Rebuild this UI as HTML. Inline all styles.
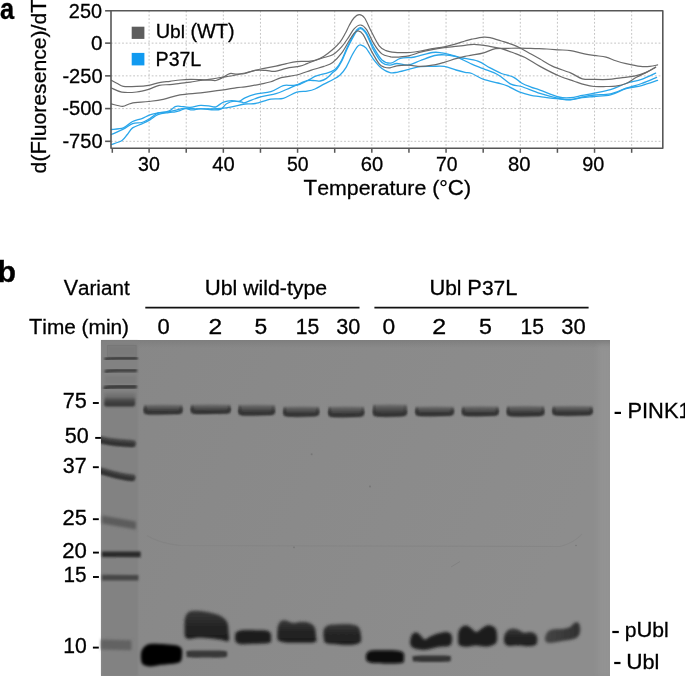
<!DOCTYPE html>
<html><head><meta charset="utf-8"><style>
html,body{margin:0;padding:0;background:#fff;width:685px;height:676px;overflow:hidden}
svg{display:block;will-change:transform}
text{font-family:"Liberation Sans",sans-serif;fill:#000;stroke:#000;stroke-width:0.3px}
</style></head><body>
<svg width="685" height="676" viewBox="0 0 685 676">
<defs>
<filter id="b05" x="-20%" y="-100%" width="140%" height="300%"><feGaussianBlur stdDeviation="0.5"/></filter>
<filter id="b08" x="-20%" y="-100%" width="140%" height="300%"><feGaussianBlur stdDeviation="0.8"/></filter>
<filter id="b10" x="-20%" y="-100%" width="140%" height="300%"><feGaussianBlur stdDeviation="1.0"/></filter>
<filter id="b12" x="-20%" y="-100%" width="140%" height="300%"><feGaussianBlur stdDeviation="1.2"/></filter>
<filter id="b15" x="-20%" y="-100%" width="140%" height="300%"><feGaussianBlur stdDeviation="1.5"/></filter>
<filter id="b18" x="-20%" y="-100%" width="140%" height="300%"><feGaussianBlur stdDeviation="1.8"/></filter>
<filter id="b25" x="-30%" y="-100%" width="160%" height="300%"><feGaussianBlur stdDeviation="2.5"/></filter>
<filter id="b35" x="-30%" y="-100%" width="160%" height="300%"><feGaussianBlur stdDeviation="3.5"/></filter>
<clipPath id="gelclip"><rect x="101" y="340" width="509" height="336"/></clipPath>
<linearGradient id="gelbg" x1="0" y1="0" x2="1" y2="0.3">
  <stop offset="0" stop-color="#878787"/>
  <stop offset="1" stop-color="#8d8d8d"/>
</linearGradient>
<linearGradient id="gtop" x1="0" y1="0" x2="0" y2="1">
  <stop offset="0" stop-color="#7e7e7e" stop-opacity="1"/>
  <stop offset="1" stop-color="#7e7e7e" stop-opacity="0"/>
</linearGradient>
<linearGradient id="lad75" x1="0" y1="0" x2="0" y2="1">
  <stop offset="0" stop-color="#5e5e5e"/>
  <stop offset="0.45" stop-color="#444444"/>
  <stop offset="1" stop-color="#323232"/>
</linearGradient>
<linearGradient id="pu" x1="0" y1="0" x2="0" y2="1">
  <stop offset="0" stop-color="#383838"/>
  <stop offset="0.5" stop-color="#242424"/>
  <stop offset="1" stop-color="#1c1c1c"/>
</linearGradient>
<linearGradient id="pu10" x1="0" y1="0" x2="1" y2="0">
  <stop offset="0" stop-color="#454545"/>
  <stop offset="1" stop-color="#303030"/>
</linearGradient>
<linearGradient id="pink" x1="0" y1="0" x2="0" y2="1">
  <stop offset="0" stop-color="#747474"/>
  <stop offset="0.3" stop-color="#585858"/>
  <stop offset="0.65" stop-color="#404040"/>
  <stop offset="1" stop-color="#333333"/>
</linearGradient>
</defs>
<rect x="101" y="340" width="509" height="336" fill="url(#gelbg)"/>
<rect x="101" y="340" width="509" height="8" fill="url(#gtop)"/>
<rect x="598" y="345" width="14" height="331" fill="#939393" filter="url(#b25)" clip-path="url(#gelclip)"/>
<rect x="102" y="341" width="36" height="335" fill="#828282" filter="url(#b12)"/>
<rect x="107.7" y="345.5" width="28.3" height="11" fill="#7a7a7a" filter="url(#b08)"/>
<rect x="107.7" y="345.5" width="28.3" height="11" fill="none" stroke="#777777" stroke-width="1" filter="url(#b05)"/>
<path d="M106.0,359.0 C109.5,358.2 114.5,358.2 118.5,358.2 L136.2,358.2" stroke="#3c3c3c" stroke-width="3.6" fill="none" stroke-linecap="round" filter="url(#b08)" clip-path="url(#gelclip)"/>
<path d="M106.0,371.3 C109.5,370.5 114.5,370.5 118.5,370.5 L135.7,370.5" stroke="#3e3e3e" stroke-width="3.4" fill="none" stroke-linecap="round" filter="url(#b08)" clip-path="url(#gelclip)"/>
<rect x="105" y="376" width="31" height="8" fill="#7c7c7c" filter="url(#b15)"/>
<path d="M105.5,387.8 C109.0,386.8 114.0,386.8 118.0,386.8 L135.0,386.8" stroke="#3e3e3e" stroke-width="4.4" fill="none" stroke-linecap="round" filter="url(#b08)" clip-path="url(#gelclip)"/>
<rect x="104.5" y="393" width="31" height="7" fill="#727272" filter="url(#b15)"/>
<path d="M104.5,399 Q104.5,397.6 107,397.6 L133,397.6 Q135.2,397.6 135.2,399.5 L135.2,404.5 Q135.2,406.4 133,406.4 L107,406.4 Q104,406.6 104,404.5 Z" fill="url(#lad75)" filter="url(#b08)"/>
<path d="M100,439.4 C108,441.4 118,442.8 132.6,443.4" stroke="#4a4a4a" stroke-width="7" fill="none" stroke-linecap="round" filter="url(#b10)" clip-path="url(#gelclip)"/>
<path d="M100,440.9 C108,442.9 118,444.3 132.6,444.8" stroke="#303030" stroke-width="4" fill="none" stroke-linecap="round" filter="url(#b08)" clip-path="url(#gelclip)"/>
<path d="M100,470.4 C110,473.0 120,476.6 132.4,477.6" stroke="#4a4a4a" stroke-width="6.5" fill="none" stroke-linecap="round" filter="url(#b10)" clip-path="url(#gelclip)"/>
<path d="M100,471.7 C110,474.3 120,477.9 132.4,478.8" stroke="#323232" stroke-width="3.8" fill="none" stroke-linecap="round" filter="url(#b08)" clip-path="url(#gelclip)"/>
<path d="M102.0,515.5 L136.0,521.5 L136.0,529.5 L102.0,523.5 Z" fill="#5c5c5c" filter="url(#b18)"/>
<path d="M102.0,551.4 L140.6,551.6 L140.6,557.2 L102.0,557.0 Z" fill="#2a2a2a" filter="url(#b12)"/>
<path d="M102.0,574.8 L138.4,575.0 L138.4,580.6 L102.0,580.4 Z" fill="#474747" filter="url(#b12)"/>
<path d="M101.0,639.6 L131.5,640.2 L131.5,650.2 L101.0,649.6 Z" fill="#626262" filter="url(#b18)"/>
<path d="M144.1,405.0 Q163.2,404.0 182.3,405.0 L182.3,410.9 Q182.3,413.9 177.3,414.1 Q163.2,414.8 149.1,414.4 Q144.1,414.4 144.1,410.9 Z" fill="url(#pink)" filter="url(#b08)"/>
<rect x="144.1" y="406.0" width="2.2" height="7.4" rx="1" fill="#3a3a3a" filter="url(#b08)" opacity="0.7"/>
<rect x="180.1" y="406.0" width="2.2" height="7.4" rx="1" fill="#3a3a3a" filter="url(#b08)" opacity="0.5"/>
<path d="M145.1,408.4 Q145.1,412.9 150.1,412.6 L176.3,412.4 Q181.3,412.6 181.3,408.4" fill="none" stroke="#2e2e2e" stroke-width="2.4" filter="url(#b08)" opacity="0.8"/>
<path d="M191.1,404.8 Q210.8,403.8 230.5,404.8 L230.5,410.4 Q230.5,413.4 225.5,413.6 Q210.8,414.3 196.1,413.9 Q191.1,413.9 191.1,410.4 Z" fill="url(#pink)" filter="url(#b08)"/>
<rect x="191.1" y="405.8" width="2.2" height="7.1" rx="1" fill="#3a3a3a" filter="url(#b08)" opacity="0.7"/>
<rect x="228.3" y="405.8" width="2.2" height="7.1" rx="1" fill="#3a3a3a" filter="url(#b08)" opacity="0.5"/>
<path d="M192.1,407.9 Q192.1,412.4 197.1,412.1 L224.5,411.9 Q229.5,412.1 229.5,407.9" fill="none" stroke="#2e2e2e" stroke-width="2.4" filter="url(#b08)" opacity="0.8"/>
<path d="M238.6,405.0 Q256.6,404.0 274.6,405.0 L274.6,411.9 Q274.6,414.9 269.6,415.1 Q256.6,415.8 243.6,415.4 Q238.6,415.4 238.6,411.9 Z" fill="url(#pink)" filter="url(#b08)"/>
<rect x="238.6" y="406.0" width="2.2" height="8.4" rx="1" fill="#3a3a3a" filter="url(#b08)" opacity="0.7"/>
<rect x="272.4" y="406.0" width="2.2" height="8.4" rx="1" fill="#3a3a3a" filter="url(#b08)" opacity="0.5"/>
<path d="M239.6,409.4 Q239.6,413.9 244.6,413.6 L268.6,413.4 Q273.6,413.6 273.6,409.4" fill="none" stroke="#2e2e2e" stroke-width="2.4" filter="url(#b08)" opacity="0.8"/>
<path d="M283.5,406.8 Q301.2,405.8 318.9,406.8 L318.9,413.1 Q318.9,416.1 313.9,416.3 Q301.2,417.0 288.5,416.6 Q283.5,416.6 283.5,413.1 Z" fill="url(#pink)" filter="url(#b08)"/>
<rect x="283.5" y="407.8" width="2.2" height="7.8" rx="1" fill="#3a3a3a" filter="url(#b08)" opacity="0.7"/>
<rect x="316.7" y="407.8" width="2.2" height="7.8" rx="1" fill="#3a3a3a" filter="url(#b08)" opacity="0.5"/>
<path d="M284.5,410.6 Q284.5,415.1 289.5,414.8 L312.9,414.6 Q317.9,414.8 317.9,410.6" fill="none" stroke="#2e2e2e" stroke-width="2.4" filter="url(#b08)" opacity="0.8"/>
<path d="M328.5,406.8 Q346.2,405.8 363.9,406.8 L363.9,413.5 Q363.9,416.5 358.9,416.7 Q346.2,417.4 333.5,417.0 Q328.5,417.0 328.5,413.5 Z" fill="url(#pink)" filter="url(#b08)"/>
<rect x="328.5" y="407.8" width="2.2" height="8.2" rx="1" fill="#3a3a3a" filter="url(#b08)" opacity="0.7"/>
<rect x="361.7" y="407.8" width="2.2" height="8.2" rx="1" fill="#3a3a3a" filter="url(#b08)" opacity="0.5"/>
<path d="M329.5,411.0 Q329.5,415.5 334.5,415.2 L357.9,415.0 Q362.9,415.2 362.9,411.0" fill="none" stroke="#2e2e2e" stroke-width="2.4" filter="url(#b08)" opacity="0.8"/>
<path d="M373.3,404.8 Q390.0,403.8 406.6,404.8 L406.6,413.0 Q406.6,416.0 401.6,416.2 Q390.0,416.9 378.3,416.5 Q373.3,416.5 373.3,413.0 Z" fill="url(#pink)" filter="url(#b08)"/>
<rect x="373.3" y="405.8" width="2.2" height="9.7" rx="1" fill="#3a3a3a" filter="url(#b08)" opacity="0.7"/>
<rect x="404.4" y="405.8" width="2.2" height="9.7" rx="1" fill="#3a3a3a" filter="url(#b08)" opacity="0.5"/>
<path d="M374.3,410.5 Q374.3,415.0 379.3,414.7 L400.6,414.5 Q405.6,414.7 405.6,410.5" fill="none" stroke="#2e2e2e" stroke-width="2.4" filter="url(#b08)" opacity="0.8"/>
<path d="M415.6,406.8 Q434.6,405.8 453.6,406.8 L453.6,412.6 Q453.6,415.6 448.6,415.8 Q434.6,416.5 420.6,416.1 Q415.6,416.1 415.6,412.6 Z" fill="url(#pink)" filter="url(#b08)"/>
<rect x="415.6" y="407.8" width="2.2" height="7.3" rx="1" fill="#3a3a3a" filter="url(#b08)" opacity="0.7"/>
<rect x="451.4" y="407.8" width="2.2" height="7.3" rx="1" fill="#3a3a3a" filter="url(#b08)" opacity="0.5"/>
<path d="M416.6,410.1 Q416.6,414.6 421.6,414.3 L447.6,414.1 Q452.6,414.3 452.6,410.1" fill="none" stroke="#2e2e2e" stroke-width="2.4" filter="url(#b08)" opacity="0.8"/>
<path d="M462.2,406.6 Q480.4,405.6 498.5,406.6 L498.5,412.6 Q498.5,415.6 493.5,415.8 Q480.4,416.5 467.2,416.1 Q462.2,416.1 462.2,412.6 Z" fill="url(#pink)" filter="url(#b08)"/>
<rect x="462.2" y="407.6" width="2.2" height="7.5" rx="1" fill="#3a3a3a" filter="url(#b08)" opacity="0.7"/>
<rect x="496.3" y="407.6" width="2.2" height="7.5" rx="1" fill="#3a3a3a" filter="url(#b08)" opacity="0.5"/>
<path d="M463.2,410.1 Q463.2,414.6 468.2,414.3 L492.5,414.1 Q497.5,414.3 497.5,410.1" fill="none" stroke="#2e2e2e" stroke-width="2.4" filter="url(#b08)" opacity="0.8"/>
<path d="M507.1,406.2 Q525.6,405.2 544.1,406.2 L544.1,412.8 Q544.1,415.8 539.1,416.0 Q525.6,416.7 512.1,416.3 Q507.1,416.3 507.1,412.8 Z" fill="url(#pink)" filter="url(#b08)"/>
<rect x="507.1" y="407.2" width="2.2" height="8.1" rx="1" fill="#3a3a3a" filter="url(#b08)" opacity="0.7"/>
<rect x="541.9" y="407.2" width="2.2" height="8.1" rx="1" fill="#3a3a3a" filter="url(#b08)" opacity="0.5"/>
<path d="M508.1,410.3 Q508.1,414.8 513.1,414.5 L538.1,414.3 Q543.1,414.5 543.1,410.3" fill="none" stroke="#2e2e2e" stroke-width="2.4" filter="url(#b08)" opacity="0.8"/>
<path d="M552.6,406.2 Q572.5,405.2 592.5,406.2 L592.5,412.1 Q592.5,415.1 587.5,415.3 Q572.5,416.0 557.6,415.6 Q552.6,415.6 552.6,412.1 Z" fill="url(#pink)" filter="url(#b08)"/>
<rect x="552.6" y="407.2" width="2.2" height="7.4" rx="1" fill="#3a3a3a" filter="url(#b08)" opacity="0.7"/>
<rect x="590.3" y="407.2" width="2.2" height="7.4" rx="1" fill="#3a3a3a" filter="url(#b08)" opacity="0.5"/>
<path d="M553.6,409.6 Q553.6,414.1 558.6,413.8 L586.5,413.6 Q591.5,413.8 591.5,409.6" fill="none" stroke="#2e2e2e" stroke-width="2.4" filter="url(#b08)" opacity="0.8"/>
<path d="M141.5,651.0 C142.3,648.8 144.2,646.7 146.0,645.5 C147.8,644.3 148.8,644.0 152.0,643.8 C155.2,643.6 161.0,644.0 165.0,644.2 C169.0,644.5 173.2,644.6 176.0,645.3 C178.8,646.0 180.5,646.7 181.5,648.5 C182.5,650.3 182.2,653.8 182.0,656.0 C181.8,658.2 181.7,660.2 180.5,661.5 C179.3,662.8 178.4,662.9 175.0,663.5 C171.6,664.1 164.2,664.5 160.0,665.0 C155.8,665.5 152.8,666.5 150.0,666.4 C147.2,666.3 144.5,665.7 143.0,664.5 C141.5,663.3 141.2,661.2 141.0,659.0 C140.8,656.8 140.7,653.2 141.5,651.0 Z" fill="#060606" filter="url(#b15)"/>
<path d="M185.0,618.0 C185.8,615.2 186.9,612.7 189.5,611.5 C192.1,610.3 196.6,610.6 200.7,611.0 C204.8,611.4 210.2,612.6 213.8,613.6 C217.5,614.6 220.3,615.6 222.6,617.2 C224.9,618.8 226.5,620.4 227.5,623.0 C228.5,625.6 228.4,630.0 228.6,633.0 C228.8,636.0 229.8,639.9 228.4,641.0 C227.0,642.1 222.9,640.0 220.0,639.6 C217.1,639.2 214.6,638.7 210.9,638.4 C207.2,638.1 201.5,637.7 197.8,637.8 C194.2,637.9 191.1,639.2 189.0,639.0 C186.9,638.8 185.7,638.3 185.0,636.5 C184.3,634.7 184.6,631.1 184.6,628.0 C184.6,624.9 184.2,620.8 185.0,618.0 Z" fill="url(#pu)" filter="url(#b15)"/>
<path d="M187.5,651.0 C190.5,650.4 198.8,650.6 205.0,650.6 C211.2,650.6 221.3,650.5 225.0,651.0 C228.7,651.5 227.0,652.8 227.0,653.8 C227.0,654.8 228.7,656.6 225.0,657.2 C221.3,657.8 211.2,657.6 205.0,657.6 C198.8,657.6 191.0,657.8 188.0,657.2 C185.0,656.6 186.9,655.0 186.8,654.0 C186.7,653.0 184.5,651.6 187.5,651.0 Z" fill="#383838" filter="url(#b10)"/>
<path d="M236.0,632.5 C237.1,631.5 238.8,630.7 242.0,630.3 C245.2,629.9 251.0,630.2 255.0,630.2 C259.0,630.2 263.4,630.0 266.0,630.5 C268.6,631.0 269.7,631.8 270.5,633.0 C271.3,634.2 271.2,636.4 271.0,638.0 C270.8,639.6 272.2,641.8 269.5,642.8 C266.8,643.8 259.9,643.6 255.0,643.8 C250.1,644.0 243.2,644.5 240.0,644.0 C236.8,643.5 236.3,642.3 235.5,641.0 C234.7,639.7 235.1,637.4 235.2,636.0 C235.3,634.6 234.9,633.5 236.0,632.5 Z" fill="#1a1a1a" filter="url(#b15)"/>
<path d="M278.0,626.0 C278.6,624.0 279.7,621.9 281.0,621.0 C282.3,620.1 284.0,620.2 286.0,620.5 C288.0,620.8 290.3,622.8 293.0,623.0 C295.7,623.2 299.3,621.8 302.0,621.8 C304.7,621.8 306.9,621.9 309.0,622.8 C311.1,623.7 313.4,625.0 314.5,627.0 C315.6,629.0 315.7,632.5 315.8,635.0 C315.9,637.5 317.8,640.7 315.2,642.0 C312.6,643.3 305.0,642.7 300.0,642.8 C295.0,642.9 288.7,642.9 285.0,642.4 C281.3,641.9 279.3,641.6 278.0,640.0 C276.7,638.4 277.4,635.3 277.4,633.0 C277.4,630.7 277.4,628.0 278.0,626.0 Z" fill="url(#pu)" filter="url(#b15)"/>
<path d="M324.0,629.0 C324.9,627.0 326.3,625.8 329.0,625.0 C331.7,624.2 336.2,624.3 340.0,624.2 C343.8,624.1 348.9,624.0 352.0,624.5 C355.1,625.0 357.0,625.4 358.5,627.0 C360.0,628.6 360.5,631.5 360.8,634.0 C361.1,636.5 362.0,640.2 360.5,642.0 C359.0,643.8 355.8,644.6 352.0,645.0 C348.2,645.4 342.3,644.7 338.0,644.4 C333.7,644.1 328.4,644.2 326.0,643.0 C323.6,641.8 323.9,639.3 323.6,637.0 C323.3,634.7 323.1,631.0 324.0,629.0 Z" fill="url(#pu)" filter="url(#b15)"/>
<path d="M366.5,654.0 C367.3,652.9 367.9,651.2 371.0,650.6 C374.1,650.0 380.5,650.2 385.0,650.2 C389.5,650.2 394.9,650.3 398.0,650.8 C401.1,651.3 402.5,651.8 403.5,653.0 C404.5,654.2 404.2,656.4 404.0,658.0 C403.8,659.6 404.8,661.9 402.5,662.8 C400.2,663.7 394.8,663.4 390.0,663.4 C385.2,663.4 377.8,663.4 374.0,663.0 C370.2,662.6 368.3,661.9 367.0,661.0 C365.7,660.1 366.1,658.7 366.0,657.5 C365.9,656.3 365.7,655.1 366.5,654.0 Z" fill="#080808" filter="url(#b15)"/>
<path d="M410.5,639.0 C410.9,637.6 411.4,635.1 412.5,634.0 C413.6,632.9 415.6,632.3 417.0,632.6 C418.4,632.9 419.7,634.9 421.0,636.0 C422.3,637.1 423.3,639.5 425.0,639.5 C426.7,639.5 428.5,637.1 431.0,636.0 C433.5,634.9 437.3,633.7 440.0,633.0 C442.7,632.3 445.1,631.7 447.0,632.0 C448.9,632.3 450.7,633.3 451.5,635.0 C452.3,636.7 452.2,640.2 451.8,642.0 C451.4,643.8 451.3,645.2 449.0,646.0 C446.7,646.8 441.8,646.4 438.0,647.0 C434.2,647.6 429.7,649.5 426.0,649.8 C422.3,650.1 418.5,649.6 416.0,649.0 C413.5,648.4 412.0,647.1 411.0,646.0 C410.0,644.9 410.3,643.7 410.2,642.5 C410.1,641.3 410.1,640.4 410.5,639.0 Z" fill="#1d1d1d" filter="url(#b15)"/>
<path d="M413.5,656.2 C416.3,655.7 424.0,655.6 430.0,655.6 C436.0,655.6 446.1,655.5 449.5,656.0 C452.9,656.5 450.5,657.7 450.4,658.6 C450.3,659.5 452.4,661.0 449.0,661.6 C445.6,662.2 435.8,662.0 430.0,662.0 C424.2,662.0 416.8,662.1 414.0,661.6 C411.2,661.1 413.2,659.7 413.1,658.8 C413.0,657.9 410.7,656.7 413.5,656.2 Z" fill="#353535" filter="url(#b10)"/>
<path d="M458.5,632.0 C459.0,630.1 459.8,628.6 461.0,627.5 C462.2,626.4 464.3,625.4 466.0,625.5 C467.7,625.6 469.3,626.9 471.0,628.0 C472.7,629.1 474.3,631.8 476.0,632.0 C477.7,632.2 479.2,630.1 481.0,629.0 C482.8,627.9 485.2,626.1 487.0,625.6 C488.8,625.1 490.5,625.4 492.0,626.0 C493.5,626.6 495.2,627.8 496.0,629.5 C496.8,631.2 497.0,633.8 497.0,636.0 C497.0,638.2 497.5,641.2 496.0,643.0 C494.5,644.8 491.3,646.2 488.0,646.6 C484.7,647.0 479.7,645.4 476.0,645.4 C472.3,645.4 468.8,646.9 466.0,646.8 C463.2,646.7 460.3,646.3 459.0,645.0 C457.7,643.7 458.2,641.2 458.1,639.0 C458.0,636.8 458.0,633.9 458.5,632.0 Z" fill="#1d1d1d" filter="url(#b15)"/>
<path d="M504.5,635.0 C505.1,633.1 506.1,631.6 507.5,630.5 C508.9,629.4 511.1,628.7 513.0,628.6 C514.9,628.5 517.2,629.3 519.0,630.0 C520.8,630.7 522.0,632.3 524.0,632.6 C526.0,632.9 529.0,631.7 531.0,632.0 C533.0,632.3 534.9,633.3 536.0,634.6 C537.1,635.9 537.5,638.3 537.4,640.0 C537.3,641.7 537.1,644.0 535.5,645.0 C533.9,646.0 530.9,646.1 528.0,646.2 C525.1,646.3 521.3,645.7 518.0,645.6 C514.7,645.5 510.3,646.4 508.0,645.8 C505.7,645.2 504.8,643.8 504.2,642.0 C503.6,640.2 503.9,636.9 504.5,635.0 Z" fill="url(#pu)" filter="url(#b15)"/>
<path d="M545.5,635.5 C546.1,633.8 547.2,631.9 549.0,630.8 C550.8,629.7 553.5,629.3 556.0,629.0 C558.5,628.7 561.7,629.1 564.0,628.8 C566.3,628.5 568.3,627.9 570.0,627.0 C571.7,626.1 572.7,623.9 574.0,623.2 C575.3,622.5 577.0,622.0 578.0,622.6 C579.0,623.2 579.8,625.1 580.0,627.0 C580.2,628.9 580.3,632.1 579.5,634.0 C578.7,635.9 577.9,637.2 575.0,638.4 C572.1,639.6 566.2,640.2 562.0,641.0 C557.8,641.8 552.8,643.0 550.0,643.0 C547.2,643.0 546.1,642.2 545.4,641.0 C544.6,639.8 544.9,637.2 545.5,635.5 Z" fill="url(#pu10)" filter="url(#b15)"/>
<path d="M147,535.5 Q158,543 180,545.5 L560,546.5 Q574,543 582,534" stroke="#7a7a7a" stroke-width="1.1" fill="none" opacity="0.35" filter="url(#b05)"/>
<path d="M451,567 L460,561.5" stroke="#777" stroke-width="0.9" fill="none" opacity="0.6"/>
<circle cx="294" cy="547.3" r="0.9" fill="#6e6e6e" opacity="0.7"/>
<circle cx="311.6" cy="454.3" r="1.0" fill="#6e6e6e" opacity="0.7"/>
<circle cx="370" cy="486.6" r="1.0" fill="#6e6e6e" opacity="0.7"/>
<circle cx="576" cy="545.5" r="0.8" fill="#6e6e6e" opacity="0.7"/>
<line x1="149.10" y1="10.8" x2="149.10" y2="148.2" stroke="#c4c4c4" stroke-width="1" stroke-dasharray="1.8,1.9"/>
<line x1="186.22" y1="10.8" x2="186.22" y2="148.2" stroke="#c4c4c4" stroke-width="1" stroke-dasharray="1.8,1.9"/>
<line x1="223.34" y1="10.8" x2="223.34" y2="148.2" stroke="#c4c4c4" stroke-width="1" stroke-dasharray="1.8,1.9"/>
<line x1="260.46" y1="10.8" x2="260.46" y2="148.2" stroke="#c4c4c4" stroke-width="1" stroke-dasharray="1.8,1.9"/>
<line x1="297.58" y1="10.8" x2="297.58" y2="148.2" stroke="#c4c4c4" stroke-width="1" stroke-dasharray="1.8,1.9"/>
<line x1="334.70" y1="10.8" x2="334.70" y2="148.2" stroke="#c4c4c4" stroke-width="1" stroke-dasharray="1.8,1.9"/>
<line x1="371.82" y1="10.8" x2="371.82" y2="148.2" stroke="#c4c4c4" stroke-width="1" stroke-dasharray="1.8,1.9"/>
<line x1="408.94" y1="10.8" x2="408.94" y2="148.2" stroke="#c4c4c4" stroke-width="1" stroke-dasharray="1.8,1.9"/>
<line x1="446.06" y1="10.8" x2="446.06" y2="148.2" stroke="#c4c4c4" stroke-width="1" stroke-dasharray="1.8,1.9"/>
<line x1="483.18" y1="10.8" x2="483.18" y2="148.2" stroke="#c4c4c4" stroke-width="1" stroke-dasharray="1.8,1.9"/>
<line x1="520.30" y1="10.8" x2="520.30" y2="148.2" stroke="#c4c4c4" stroke-width="1" stroke-dasharray="1.8,1.9"/>
<line x1="557.42" y1="10.8" x2="557.42" y2="148.2" stroke="#c4c4c4" stroke-width="1" stroke-dasharray="1.8,1.9"/>
<line x1="594.54" y1="10.8" x2="594.54" y2="148.2" stroke="#c4c4c4" stroke-width="1" stroke-dasharray="1.8,1.9"/>
<line x1="631.66" y1="10.8" x2="631.66" y2="148.2" stroke="#c4c4c4" stroke-width="1" stroke-dasharray="1.8,1.9"/>
<line x1="111.0" y1="43.13" x2="662.8" y2="43.13" stroke="#c4c4c4" stroke-width="1" stroke-dasharray="1.8,1.9"/>
<line x1="111.0" y1="75.86" x2="662.8" y2="75.86" stroke="#c4c4c4" stroke-width="1" stroke-dasharray="1.8,1.9"/>
<line x1="111.0" y1="108.59" x2="662.8" y2="108.59" stroke="#c4c4c4" stroke-width="1" stroke-dasharray="1.8,1.9"/>
<line x1="111.0" y1="141.32" x2="662.8" y2="141.32" stroke="#c4c4c4" stroke-width="1" stroke-dasharray="1.8,1.9"/>
<path d="M111.30,129.50 C113.30,129.23 119.75,129.23 123.30,127.90 C126.85,126.57 129.50,123.05 132.60,121.50 C135.70,119.95 139.02,119.72 141.90,118.60 C144.78,117.48 147.23,115.73 149.90,114.80 C152.57,113.87 154.78,113.60 157.90,113.00 C161.02,112.40 165.72,112.27 168.60,111.20 C171.48,110.13 173.30,107.42 175.20,106.60 C177.10,105.78 177.53,106.18 180.00,106.30 C182.47,106.42 186.55,107.45 190.00,107.30 C193.45,107.15 197.20,105.57 200.70,105.40 C204.20,105.23 208.45,106.07 211.00,106.30 C213.55,106.53 213.92,107.50 216.00,106.80 C218.08,106.10 220.87,103.13 223.50,102.10 C226.13,101.07 229.22,100.72 231.80,100.60 C234.38,100.48 236.80,101.87 239.00,101.40 C241.20,100.93 242.27,99.00 245.00,97.80 C247.73,96.60 251.08,95.23 255.40,94.20 C259.72,93.17 266.25,93.03 270.90,91.60 C275.55,90.17 279.85,86.63 283.30,85.60 C286.75,84.57 288.83,85.62 291.60,85.40 C294.37,85.18 296.97,85.25 299.90,84.30 C302.83,83.35 306.68,81.02 309.20,79.70 C311.72,78.38 312.55,77.37 315.00,76.40 C317.45,75.43 321.23,74.68 323.90,73.90 C326.57,73.12 328.93,72.65 331.00,71.70 C333.07,70.75 334.53,70.12 336.30,68.20 C338.07,66.28 339.82,63.62 341.60,60.20 C343.38,56.78 345.22,51.55 347.00,47.70 C348.78,43.85 350.77,39.95 352.30,37.10 C353.83,34.25 354.85,32.18 356.20,30.60 C357.55,29.02 358.73,27.27 360.40,27.60 C362.07,27.93 363.95,29.22 366.20,32.60 C368.45,35.98 371.28,43.35 373.90,47.90 C376.52,52.45 379.07,57.37 381.90,59.90 C384.73,62.43 387.82,63.35 390.90,63.10 C393.98,62.85 396.45,59.42 400.40,58.40 C404.35,57.38 409.28,57.98 414.60,57.00 C419.92,56.02 427.77,53.20 432.30,52.50 C436.83,51.80 438.83,52.45 441.80,52.80 C444.77,53.15 447.07,53.82 450.10,54.60 C453.13,55.38 455.38,56.42 460.00,57.50 C464.62,58.58 472.87,59.42 477.80,61.10 C482.73,62.78 485.67,65.53 489.60,67.60 C493.53,69.67 497.45,71.92 501.40,73.50 C505.35,75.08 509.95,75.52 513.30,77.10 C516.65,78.68 518.55,81.33 521.50,83.00 C524.45,84.67 527.92,85.92 531.00,87.10 C534.08,88.28 535.38,88.45 540.00,90.10 C544.62,91.75 553.62,95.73 558.70,97.00 C563.78,98.27 566.57,97.97 570.50,97.70 C574.43,97.43 578.35,96.15 582.30,95.40 C586.25,94.65 589.50,94.15 594.20,93.20 C598.90,92.25 605.18,91.32 610.50,89.70 C615.82,88.08 620.92,85.23 626.10,83.50 C631.28,81.77 636.68,81.03 641.60,79.30 C646.52,77.57 653.27,74.13 655.60,73.10" fill="none" stroke="#2aa6ea" stroke-width="1.3" stroke-linejoin="round" stroke-linecap="round"/>
<path d="M111.30,134.50 C113.30,133.62 119.75,131.02 123.30,129.20 C126.85,127.38 129.50,124.72 132.60,123.60 C135.70,122.48 139.02,123.33 141.90,122.50 C144.78,121.67 147.23,120.15 149.90,118.60 C152.57,117.05 154.78,114.32 157.90,113.20 C161.02,112.08 164.92,112.57 168.60,111.90 C172.28,111.23 177.27,109.80 180.00,109.20 C182.73,108.60 182.93,108.18 185.00,108.30 C187.07,108.42 189.78,109.85 192.40,109.90 C195.02,109.95 197.10,108.60 200.70,108.60 C204.30,108.60 210.55,109.87 214.00,109.90 C217.45,109.93 219.30,109.83 221.40,108.80 C223.50,107.77 224.50,104.98 226.60,103.70 C228.70,102.42 231.43,101.37 234.00,101.10 C236.57,100.83 240.17,101.87 242.00,102.10 C243.83,102.33 241.92,103.38 245.00,102.50 C248.08,101.62 255.33,98.27 260.50,96.80 C265.67,95.33 271.68,94.92 276.00,93.70 C280.32,92.48 282.93,90.97 286.40,89.50 C289.87,88.03 293.35,86.37 296.80,84.90 C300.25,83.43 304.07,81.42 307.10,80.70 C310.13,79.98 312.80,80.55 315.00,80.60 C317.20,80.65 318.38,81.37 320.30,81.00 C322.22,80.63 324.43,79.80 326.50,78.40 C328.57,77.00 330.95,74.20 332.70,72.60 C334.45,71.00 335.48,70.73 337.00,68.80 C338.52,66.87 340.10,64.35 341.80,61.00 C343.50,57.65 345.42,52.50 347.20,48.70 C348.98,44.90 350.93,41.08 352.50,38.20 C354.07,35.32 355.22,33.00 356.60,31.40 C357.98,29.80 359.17,28.13 360.80,28.60 C362.43,29.07 364.22,30.53 366.40,34.20 C368.58,37.87 371.32,45.87 373.90,50.60 C376.48,55.33 379.22,60.17 381.90,62.60 C384.58,65.03 387.52,65.05 390.00,65.20 C392.48,65.35 393.68,63.53 396.80,63.50 C399.92,63.47 404.75,65.50 408.70,65.00 C412.65,64.50 416.17,62.08 420.50,60.50 C424.83,58.92 430.75,56.45 434.70,55.50 C438.65,54.55 440.65,54.60 444.20,54.80 C447.75,55.00 453.37,56.10 456.00,56.70 C458.63,57.30 457.37,57.17 460.00,58.40 C462.63,59.63 467.85,62.37 471.80,64.10 C475.75,65.83 479.35,67.03 483.70,68.80 C488.05,70.57 493.37,72.13 497.90,74.70 C502.43,77.27 506.97,82.23 510.90,84.20 C514.83,86.17 516.65,84.97 521.50,86.50 C526.35,88.03 533.80,91.43 540.00,93.40 C546.20,95.37 553.62,97.28 558.70,98.30 C563.78,99.32 566.57,99.72 570.50,99.50 C574.43,99.28 578.35,97.75 582.30,97.00 C586.25,96.25 589.50,95.53 594.20,95.00 C598.90,94.47 605.18,94.93 610.50,93.80 C615.82,92.67 620.92,89.92 626.10,88.20 C631.28,86.48 636.52,85.32 641.60,83.50 C646.68,81.68 654.10,78.33 656.60,77.30" fill="none" stroke="#2aa6ea" stroke-width="1.3" stroke-linejoin="round" stroke-linecap="round"/>
<path d="M111.30,144.50 C113.08,143.83 119.33,142.17 122.00,140.50 C124.67,138.83 125.53,136.60 127.30,134.50 C129.07,132.40 130.17,129.67 132.60,127.90 C135.03,126.13 139.02,125.23 141.90,123.90 C144.78,122.57 147.23,121.45 149.90,119.90 C152.57,118.35 154.78,115.82 157.90,114.60 C161.02,113.38 165.72,113.05 168.60,112.60 C171.48,112.15 173.30,112.23 175.20,111.90 C177.10,111.57 178.20,111.20 180.00,110.60 C181.80,110.00 183.42,108.60 186.00,108.30 C188.58,108.00 191.33,108.72 195.50,108.80 C199.67,108.88 206.68,108.88 211.00,108.80 C215.32,108.72 217.93,108.63 221.40,108.30 C224.87,107.97 227.87,107.52 231.80,106.80 C235.73,106.08 241.07,104.55 245.00,104.00 C248.93,103.45 251.08,104.32 255.40,103.50 C259.72,102.68 266.25,99.97 270.90,99.10 C275.55,98.23 278.98,99.47 283.30,98.30 C287.62,97.13 292.83,93.30 296.80,92.10 C300.77,90.90 304.07,91.62 307.10,91.10 C310.13,90.58 312.20,90.17 315.00,89.00 C317.80,87.83 320.95,85.65 323.90,84.10 C326.85,82.55 330.05,81.17 332.70,79.70 C335.35,78.23 337.57,77.37 339.80,75.30 C342.03,73.23 344.02,70.72 346.10,67.30 C348.18,63.88 350.38,58.28 352.30,54.80 C354.22,51.32 356.15,48.03 357.60,46.40 C359.05,44.77 359.62,44.75 361.00,45.00 C362.38,45.25 363.75,45.42 365.90,47.90 C368.05,50.38 371.23,56.45 373.90,59.90 C376.57,63.35 379.22,66.48 381.90,68.60 C384.58,70.72 387.52,71.98 390.00,72.60 C392.48,73.22 393.68,72.83 396.80,72.30 C399.92,71.77 404.75,70.33 408.70,69.40 C412.65,68.47 416.57,67.20 420.50,66.70 C424.43,66.20 428.35,66.45 432.30,66.40 C436.25,66.35 440.25,65.80 444.20,66.40 C448.15,67.00 452.53,69.02 456.00,70.00 C459.47,70.98 462.37,71.72 465.00,72.30 C467.63,72.88 468.68,72.32 471.80,73.50 C474.92,74.68 479.35,77.82 483.70,79.40 C488.05,80.98 493.97,81.92 497.90,83.00 C501.83,84.08 503.75,84.42 507.30,85.90 C510.85,87.38 515.25,90.32 519.20,91.90 C523.15,93.48 527.53,94.62 531.00,95.40 C534.47,96.18 535.38,96.02 540.00,96.60 C544.62,97.18 553.62,98.35 558.70,98.90 C563.78,99.45 566.57,100.10 570.50,99.90 C574.43,99.70 578.35,98.27 582.30,97.70 C586.25,97.13 589.50,96.97 594.20,96.50 C598.90,96.03 605.18,96.20 610.50,94.90 C615.82,93.60 620.92,90.25 626.10,88.70 C631.28,87.15 636.35,86.98 641.60,85.60 C646.85,84.22 654.93,81.27 657.60,80.40" fill="none" stroke="#2aa6ea" stroke-width="1.3" stroke-linejoin="round" stroke-linecap="round"/>
<path d="M111.30,80.20 C112.40,80.80 115.90,82.77 117.90,83.80 C119.90,84.83 120.18,85.97 123.30,86.40 C126.42,86.83 132.38,86.58 136.60,86.40 C140.82,86.22 144.83,85.93 148.60,85.30 C152.37,84.67 155.65,83.27 159.20,82.60 C162.75,81.93 166.43,81.73 169.90,81.30 C173.37,80.87 176.58,80.33 180.00,80.00 C183.42,79.67 186.95,79.37 190.40,79.30 C193.85,79.23 197.27,79.45 200.70,79.60 C204.13,79.75 208.45,80.05 211.00,80.20 C213.55,80.35 214.17,80.87 216.00,80.50 C217.83,80.13 219.72,79.15 222.00,78.00 C224.28,76.85 227.20,74.23 229.70,73.60 C232.20,72.97 234.45,74.30 237.00,74.20 C239.55,74.10 241.08,73.87 245.00,73.00 C248.92,72.13 255.33,70.13 260.50,69.00 C265.67,67.87 271.68,67.10 276.00,66.20 C280.32,65.30 282.93,64.37 286.40,63.60 C289.87,62.83 293.37,61.97 296.80,61.60 C300.23,61.23 303.97,61.60 307.00,61.40 C310.03,61.20 312.18,61.27 315.00,60.40 C317.82,59.53 320.95,58.02 323.90,56.20 C326.85,54.38 330.05,51.80 332.70,49.50 C335.35,47.20 337.72,45.07 339.80,42.40 C341.88,39.73 343.63,36.32 345.20,33.50 C346.77,30.68 347.75,28.08 349.20,25.50 C350.65,22.92 352.22,19.80 353.90,18.00 C355.58,16.20 357.52,14.70 359.30,14.70 C361.08,14.70 362.62,15.23 364.60,18.00 C366.58,20.77 368.77,26.65 371.20,31.30 C373.63,35.95 376.73,42.68 379.20,45.90 C381.67,49.12 383.37,49.52 386.00,50.60 C388.63,51.68 392.00,52.07 395.00,52.40 C398.00,52.73 401.50,52.58 404.00,52.60 C406.50,52.62 407.25,52.77 410.00,52.50 C412.75,52.23 416.78,51.63 420.50,51.00 C424.22,50.37 428.35,49.38 432.30,48.70 C436.25,48.02 440.25,47.70 444.20,46.90 C448.15,46.10 452.53,44.88 456.00,43.90 C459.47,42.92 462.37,41.78 465.00,41.00 C467.63,40.22 468.68,39.85 471.80,39.20 C474.92,38.55 480.53,37.33 483.70,37.10 C486.87,36.87 487.85,37.15 490.80,37.80 C493.75,38.45 497.65,39.82 501.40,41.00 C505.15,42.18 509.95,43.62 513.30,44.90 C516.65,46.18 518.55,47.18 521.50,48.70 C524.45,50.22 527.92,52.27 531.00,54.00 C534.08,55.73 536.37,57.03 540.00,59.10 C543.63,61.17 547.72,64.10 552.80,66.40 C557.88,68.70 565.58,70.83 570.50,72.90 C575.42,74.97 578.35,77.72 582.30,78.80 C586.25,79.88 589.83,79.30 594.20,79.40 C598.57,79.50 604.05,79.67 608.50,79.40 C612.95,79.13 616.60,78.33 620.90,77.80 C625.20,77.27 629.98,77.15 634.30,76.20 C638.62,75.25 643.25,73.57 646.80,72.10 C650.35,70.63 654.13,68.18 655.60,67.40" fill="none" stroke="#6b6b6b" stroke-width="1.2" stroke-linejoin="round" stroke-linecap="round"/>
<path d="M111.30,88.00 C113.05,88.68 117.58,91.43 121.80,92.10 C126.02,92.77 132.13,92.47 136.60,92.00 C141.07,91.53 144.83,90.42 148.60,89.30 C152.37,88.18 155.65,86.08 159.20,85.30 C162.75,84.52 166.43,84.93 169.90,84.60 C173.37,84.27 176.58,83.72 180.00,83.30 C183.42,82.88 186.95,82.58 190.40,82.10 C193.85,81.62 197.27,80.88 200.70,80.40 C204.13,79.92 207.67,79.68 211.00,79.20 C214.33,78.72 217.37,78.03 220.70,77.50 C224.03,76.97 227.62,76.58 231.00,76.00 C234.38,75.42 238.67,74.42 241.00,74.00 C243.33,73.58 242.60,74.10 245.00,73.50 C247.40,72.90 251.95,70.92 255.40,70.40 C258.85,69.88 262.43,70.23 265.70,70.40 C268.97,70.57 271.55,71.75 275.00,71.40 C278.45,71.05 282.25,69.17 286.40,68.30 C290.55,67.43 296.45,66.98 299.90,66.20 C303.35,65.42 304.58,64.55 307.10,63.60 C309.62,62.65 312.20,61.52 315.00,60.50 C317.80,59.48 320.95,58.45 323.90,57.50 C326.85,56.55 329.75,56.57 332.70,54.80 C335.65,53.03 338.93,49.85 341.60,46.90 C344.27,43.95 346.58,40.15 348.70,37.10 C350.82,34.05 352.35,30.62 354.30,28.60 C356.25,26.58 358.38,24.88 360.40,25.00 C362.42,25.12 364.15,26.15 366.40,29.30 C368.65,32.45 371.32,39.80 373.90,43.90 C376.48,48.00 379.22,51.78 381.90,53.90 C384.58,56.02 387.90,56.05 390.00,56.60 C392.10,57.15 391.38,57.33 394.50,57.20 C397.62,57.07 404.37,56.63 408.70,55.80 C413.03,54.97 416.57,53.23 420.50,52.20 C424.43,51.17 428.35,50.35 432.30,49.60 C436.25,48.85 440.25,48.25 444.20,47.70 C448.15,47.15 452.53,46.68 456.00,46.30 C459.47,45.92 461.97,45.73 465.00,45.40 C468.03,45.07 470.10,44.15 474.20,44.30 C478.30,44.45 485.07,45.57 489.60,46.30 C494.13,47.03 497.45,47.62 501.40,48.70 C505.35,49.78 509.35,51.33 513.30,52.80 C517.25,54.27 520.65,55.23 525.10,57.50 C529.55,59.77 534.40,63.35 540.00,66.40 C545.60,69.45 553.02,73.33 558.70,75.80 C564.38,78.27 569.77,79.72 574.10,81.20 C578.43,82.68 581.35,83.82 584.70,84.70 C588.05,85.58 590.65,86.20 594.20,86.50 C597.75,86.80 602.42,86.57 606.00,86.50 C609.58,86.43 612.35,86.60 615.70,86.10 C619.05,85.60 622.65,84.97 626.10,83.50 C629.55,82.03 632.95,79.20 636.40,77.30 C639.85,75.40 643.60,73.80 646.80,72.10 C650.00,70.40 654.13,67.93 655.60,67.10" fill="none" stroke="#6b6b6b" stroke-width="1.2" stroke-linejoin="round" stroke-linecap="round"/>
<path d="M111.30,103.90 C113.18,104.30 119.27,106.40 122.60,106.30 C125.93,106.20 126.97,104.10 131.30,103.30 C135.63,102.50 143.28,102.17 148.60,101.50 C153.92,100.83 157.97,100.40 163.20,99.30 C168.43,98.20 173.75,95.98 180.00,94.90 C186.25,93.82 193.80,93.58 200.70,92.80 C207.60,92.02 215.35,91.07 221.40,90.20 C227.45,89.33 233.07,88.15 237.00,87.60 C240.93,87.05 241.08,87.48 245.00,86.90 C248.92,86.32 256.18,84.95 260.50,84.10 C264.82,83.25 267.45,82.88 270.90,81.80 C274.35,80.72 276.88,78.73 281.20,77.60 C285.52,76.47 292.00,76.17 296.80,75.00 C301.60,73.83 306.97,71.60 310.00,70.60 C313.03,69.60 312.68,69.70 315.00,69.00 C317.32,68.30 320.95,67.50 323.90,66.40 C326.85,65.30 329.75,64.62 332.70,62.40 C335.65,60.18 338.93,56.58 341.60,53.10 C344.27,49.62 346.63,44.78 348.70,41.50 C350.77,38.22 352.42,35.17 354.00,33.40 C355.58,31.63 356.67,30.70 358.20,30.90 C359.73,31.10 361.03,31.32 363.20,34.60 C365.37,37.88 368.53,45.72 371.20,50.60 C373.87,55.48 376.98,61.13 379.20,63.90 C381.42,66.67 382.70,66.53 384.50,67.20 C386.30,67.87 387.95,68.13 390.00,67.90 C392.05,67.67 393.68,66.25 396.80,65.80 C399.92,65.35 404.75,65.10 408.70,65.20 C412.65,65.30 416.57,66.40 420.50,66.40 C424.43,66.40 428.35,65.88 432.30,65.20 C436.25,64.52 440.25,63.38 444.20,62.30 C448.15,61.22 452.53,59.68 456.00,58.70 C459.47,57.72 462.37,56.98 465.00,56.40 C467.63,55.82 468.68,55.80 471.80,55.20 C474.92,54.60 479.75,53.88 483.70,52.80 C487.65,51.72 491.57,49.43 495.50,48.70 C499.43,47.97 503.35,48.50 507.30,48.40 C511.25,48.30 514.58,48.07 519.20,48.10 C523.82,48.13 530.40,48.45 535.00,48.60 C539.60,48.75 542.85,48.80 546.80,49.00 C550.75,49.20 554.75,49.53 558.70,49.80 C562.65,50.07 566.57,50.02 570.50,50.60 C574.43,51.18 578.35,52.50 582.30,53.30 C586.25,54.10 590.25,54.75 594.20,55.40 C598.15,56.05 602.42,56.32 606.00,57.20 C609.58,58.08 612.35,59.63 615.70,60.70 C619.05,61.77 621.95,62.65 626.10,63.60 C630.25,64.55 636.63,65.93 640.60,66.40 C644.57,66.87 647.07,66.65 649.90,66.40 C652.73,66.15 656.32,65.15 657.60,64.90" fill="none" stroke="#6b6b6b" stroke-width="1.2" stroke-linejoin="round" stroke-linecap="round"/>
<path d="M111.0,10.8 L662.8,10.8 L662.8,148.2 L111.0,148.2 Z" fill="none" stroke="#575757" stroke-width="1.6" stroke-linejoin="round"/>
<line x1="112.30" y1="148.2" x2="112.30" y2="152.8" stroke="#575757" stroke-width="1.5"/>
<line x1="149.10" y1="148.2" x2="149.10" y2="152.8" stroke="#575757" stroke-width="1.5"/>
<line x1="186.22" y1="148.2" x2="186.22" y2="152.8" stroke="#575757" stroke-width="1.5"/>
<line x1="223.34" y1="148.2" x2="223.34" y2="152.8" stroke="#575757" stroke-width="1.5"/>
<line x1="260.46" y1="148.2" x2="260.46" y2="152.8" stroke="#575757" stroke-width="1.5"/>
<line x1="297.58" y1="148.2" x2="297.58" y2="152.8" stroke="#575757" stroke-width="1.5"/>
<line x1="334.70" y1="148.2" x2="334.70" y2="152.8" stroke="#575757" stroke-width="1.5"/>
<line x1="371.82" y1="148.2" x2="371.82" y2="152.8" stroke="#575757" stroke-width="1.5"/>
<line x1="408.94" y1="148.2" x2="408.94" y2="152.8" stroke="#575757" stroke-width="1.5"/>
<line x1="446.06" y1="148.2" x2="446.06" y2="152.8" stroke="#575757" stroke-width="1.5"/>
<line x1="483.18" y1="148.2" x2="483.18" y2="152.8" stroke="#575757" stroke-width="1.5"/>
<line x1="520.30" y1="148.2" x2="520.30" y2="152.8" stroke="#575757" stroke-width="1.5"/>
<line x1="557.42" y1="148.2" x2="557.42" y2="152.8" stroke="#575757" stroke-width="1.5"/>
<line x1="594.54" y1="148.2" x2="594.54" y2="152.8" stroke="#575757" stroke-width="1.5"/>
<line x1="631.66" y1="148.2" x2="631.66" y2="152.8" stroke="#575757" stroke-width="1.5"/>
<line x1="105.1" y1="10.80" x2="111.0" y2="10.80" stroke="#575757" stroke-width="1.6"/>
<line x1="105.1" y1="43.13" x2="111.0" y2="43.13" stroke="#575757" stroke-width="1.6"/>
<line x1="105.1" y1="75.86" x2="111.0" y2="75.86" stroke="#575757" stroke-width="1.6"/>
<line x1="105.1" y1="108.59" x2="111.0" y2="108.59" stroke="#575757" stroke-width="1.6"/>
<line x1="105.1" y1="141.32" x2="111.0" y2="141.32" stroke="#575757" stroke-width="1.6"/>
<text transform="matrix(0.9637 0 0 1 68.85 17.60)" x="0" y="0"><tspan font-size="20.6">250</tspan></text>
<text transform="matrix(1.0053 0 0 1 90.89 50.40)" x="0" y="0"><tspan font-size="20.6">0</tspan></text>
<text transform="matrix(0.9744 0 0 1 62.41 83.30)" x="0" y="0"><tspan font-size="20.6">-250</tspan></text>
<text transform="matrix(0.9795 0 0 1 62.20 115.20)" x="0" y="0"><tspan font-size="20.6">-500</tspan></text>
<text transform="matrix(0.9744 0 0 1 62.41 147.90)" x="0" y="0"><tspan font-size="20.6">-750</tspan></text>
<text transform="matrix(0.9338 0 0 1 138.05 170.60)" x="0" y="0"><tspan font-size="21.0">30</tspan></text>
<text transform="matrix(0.9612 0 0 1 212.24 170.60)" x="0" y="0"><tspan font-size="21.0">40</tspan></text>
<text transform="matrix(0.9264 0 0 1 286.92 170.60)" x="0" y="0"><tspan font-size="21.0">50</tspan></text>
<text transform="matrix(0.9594 0 0 1 360.68 170.60)" x="0" y="0"><tspan font-size="21.0">60</tspan></text>
<text transform="matrix(0.9226 0 0 1 436.01 170.60)" x="0" y="0"><tspan font-size="21.0">70</tspan></text>
<text transform="matrix(0.9665 0 0 1 507.92 170.60)" x="0" y="0"><tspan font-size="21.0">80</tspan></text>
<text transform="matrix(0.9465 0 0 1 582.27 170.60)" x="0" y="0"><tspan font-size="21.0">90</tspan></text>
<text transform="matrix(1.0165 0 0 1 303.60 195.10)" x="0" y="0"><tspan font-size="21.9">T</tspan><tspan font-size="21.0">emperature (°</tspan><tspan font-size="21.9">C</tspan><tspan font-size="21.0">)</tspan></text>
<text transform="matrix(0 -1.0094 1 0 45.90 173.39)" x="0" y="0"><tspan font-size="21.0">d(</tspan><tspan font-size="21.9">F</tspan><tspan font-size="21.0">luoresence)/d</tspan><tspan font-size="21.9">T</tspan></text>
<rect x="131.7" y="26.7" width="12.7" height="12.2" fill="#5d5d5d"/>
<rect x="131.7" y="52.9" width="12.7" height="12.5" fill="#119af0"/>
<text transform="matrix(1.0099 0 0 1 155.66 38.40)" x="0" y="0"><tspan font-size="19.8">U</tspan><tspan font-size="19.0">bl</tspan><tspan font-size="19.4"> (</tspan><tspan font-size="19.8">WT</tspan><tspan font-size="19.4">)</tspan></text>
<text transform="matrix(0.9923 0 0 1 155.59 66.00)" x="0" y="0"><tspan font-size="19.8">P</tspan><tspan font-size="19.6">37</tspan><tspan font-size="19.8">L</tspan></text>
<text transform="matrix(0.8826 0 0 1 0.05 19.00)" x="0" y="0" font-weight="bold"><tspan font-size="28.9">a</tspan></text>
<text transform="matrix(1.0470 0 0 1 -2.60 281.70)" x="0" y="0" font-weight="bold"><tspan font-size="29.0">b</tspan></text>
<text transform="matrix(0.9822 0 0 1 63.71 294.70)" x="0" y="0"><tspan font-size="21.9">V</tspan><tspan font-size="21.0">ariant</tspan></text>
<text transform="matrix(1.0132 0 0 1 204.69 294.80)" x="0" y="0"><tspan font-size="21.9">U</tspan><tspan font-size="21.0">bl wild-type</tspan></text>
<text transform="matrix(0.9986 0 0 1 429.41 294.70)" x="0" y="0"><tspan font-size="21.9">U</tspan><tspan font-size="21.0">bl </tspan><tspan font-size="21.9">P</tspan><tspan font-size="21.0">37</tspan><tspan font-size="21.9">L</tspan></text>
<line x1="145.3" y1="307.6" x2="359.5" y2="307.6" stroke="#111" stroke-width="1.6"/>
<line x1="374.4" y1="307.6" x2="588.6" y2="307.6" stroke="#111" stroke-width="1.6"/>
<text transform="matrix(0.9921 0 0 1 29.01 334.30)" x="0" y="0"><tspan font-size="21.9">T</tspan><tspan font-size="21.0">ime (min)</tspan></text>
<text transform="matrix(1.0361 0 0 1 157.54 334.30)" x="0" y="0"><tspan font-size="21.2">0</tspan></text>
<text transform="matrix(1.1597 0 0 1 208.46 334.30)" x="0" y="0"><tspan font-size="21.2">2</tspan></text>
<text transform="matrix(1.0745 0 0 1 254.39 334.30)" x="0" y="0"><tspan font-size="21.2">5</tspan></text>
<text transform="matrix(0.9964 0 0 1 295.69 334.30)" x="0" y="0"><tspan font-size="21.2">15</tspan></text>
<text transform="matrix(1.0207 0 0 1 336.28 334.30)" x="0" y="0"><tspan font-size="21.2">30</tspan></text>
<text transform="matrix(1.0756 0 0 1 382.41 334.30)" x="0" y="0"><tspan font-size="21.2">0</tspan></text>
<text transform="matrix(1.1804 0 0 1 432.34 334.30)" x="0" y="0"><tspan font-size="21.2">2</tspan></text>
<text transform="matrix(1.0944 0 0 1 478.97 334.30)" x="0" y="0"><tspan font-size="21.2">5</tspan></text>
<text transform="matrix(0.9917 0 0 1 520.60 334.30)" x="0" y="0"><tspan font-size="21.2">15</tspan></text>
<text transform="matrix(1.0389 0 0 1 561.16 334.30)" x="0" y="0"><tspan font-size="21.2">30</tspan></text>
<text transform="matrix(1.0182 0 0 1 62.79 407.80)" x="0" y="0"><tspan font-size="21.3">75</tspan></text>
<rect x="92.9" y="402.05" width="5.90" height="1.9" fill="#000"/>
<text transform="matrix(1.0133 0 0 1 64.74 443.10)" x="0" y="0"><tspan font-size="21.3">50</tspan></text>
<rect x="95.2" y="436.95" width="5.70" height="1.9" fill="#000"/>
<text transform="matrix(1.0087 0 0 1 62.78 472.80)" x="0" y="0"><tspan font-size="21.3">37</tspan></text>
<rect x="92.9" y="466.25" width="5.90" height="1.9" fill="#000"/>
<text transform="matrix(1.0310 0 0 1 62.50 524.80)" x="0" y="0"><tspan font-size="21.3">25</tspan></text>
<rect x="92.9" y="518.25" width="5.90" height="1.9" fill="#000"/>
<text transform="matrix(1.0418 0 0 1 62.18 558.30)" x="0" y="0"><tspan font-size="21.3">20</tspan></text>
<rect x="93.0" y="551.65" width="5.90" height="1.9" fill="#000"/>
<text transform="matrix(0.9728 0 0 1 63.42 582.30)" x="0" y="0"><tspan font-size="21.3">15</tspan></text>
<rect x="93.0" y="576.05" width="5.90" height="1.9" fill="#000"/>
<text transform="matrix(0.9935 0 0 1 63.29 652.70)" x="0" y="0"><tspan font-size="21.3">10</tspan></text>
<rect x="92.9" y="646.65" width="5.90" height="1.9" fill="#000"/>
<rect x="614.6" y="411.8" width="6.4" height="2.2" fill="#000"/>
<text transform="matrix(1.0000 0 0 1 627.40 418.20)" x="0" y="0"><tspan font-size="21.9">PINK</tspan><tspan font-size="21.3">1</tspan></text>
<rect x="612.3" y="630.9" width="6.5" height="2.2" fill="#000"/>
<text transform="matrix(1.0053 0 0 1 624.64 637.30)" x="0" y="0"><tspan font-size="21.0">p</tspan><tspan font-size="21.9">U</tspan><tspan font-size="21.0">bl</tspan></text>
<rect x="614.2" y="661.9" width="6.3" height="2.2" fill="#000"/>
<text transform="matrix(1.0321 0 0 1 626.16 668.60)" x="0" y="0"><tspan font-size="21.9">U</tspan><tspan font-size="21.0">bl</tspan></text>
</svg>
</body></html>
